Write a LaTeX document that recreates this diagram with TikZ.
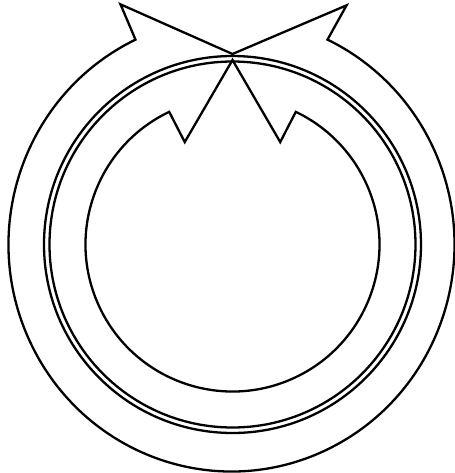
\documentclass[tikz,border=0pt]{standalone}
\begin{document}
\begin{tikzpicture}[x=0.5pt,y=0.5pt,
    ln/.style={line width=1.15pt,line join=miter}]
  \useasboundingbox (-232.5,-228.5) rectangle (222.5,244.5);
  % double ring
  \draw[ln] (0,0) circle[radius=188.5];
  \draw[ln] (0,0) circle[radius=183];
  % outer arrow
  \coordinate (otip) at (90:190.5);
  \coordinate (olb) at (115:265);
  \coordinate (orb) at (64.5:265);
  \coordinate (ols) at ([xshift=-0.5pt]115.5:223 and 227);
  \draw[ln] (otip) -- (olb) -- (ols)
    arc[start angle=115.5,end angle=424.5,x radius=223,y radius=227] -- (orb) -- cycle;
  % inner arrow
  \coordinate (itip) at (90:184.5);
  \coordinate (ilb) at (115:113);
  \coordinate (irb) at (65:113);
  \draw[ln] (itip) -- (ilb) -- (115.5:147)
    arc[start angle=115.5,end angle=424.5,radius=147] -- (irb) -- cycle;
\end{tikzpicture}
\end{document}
